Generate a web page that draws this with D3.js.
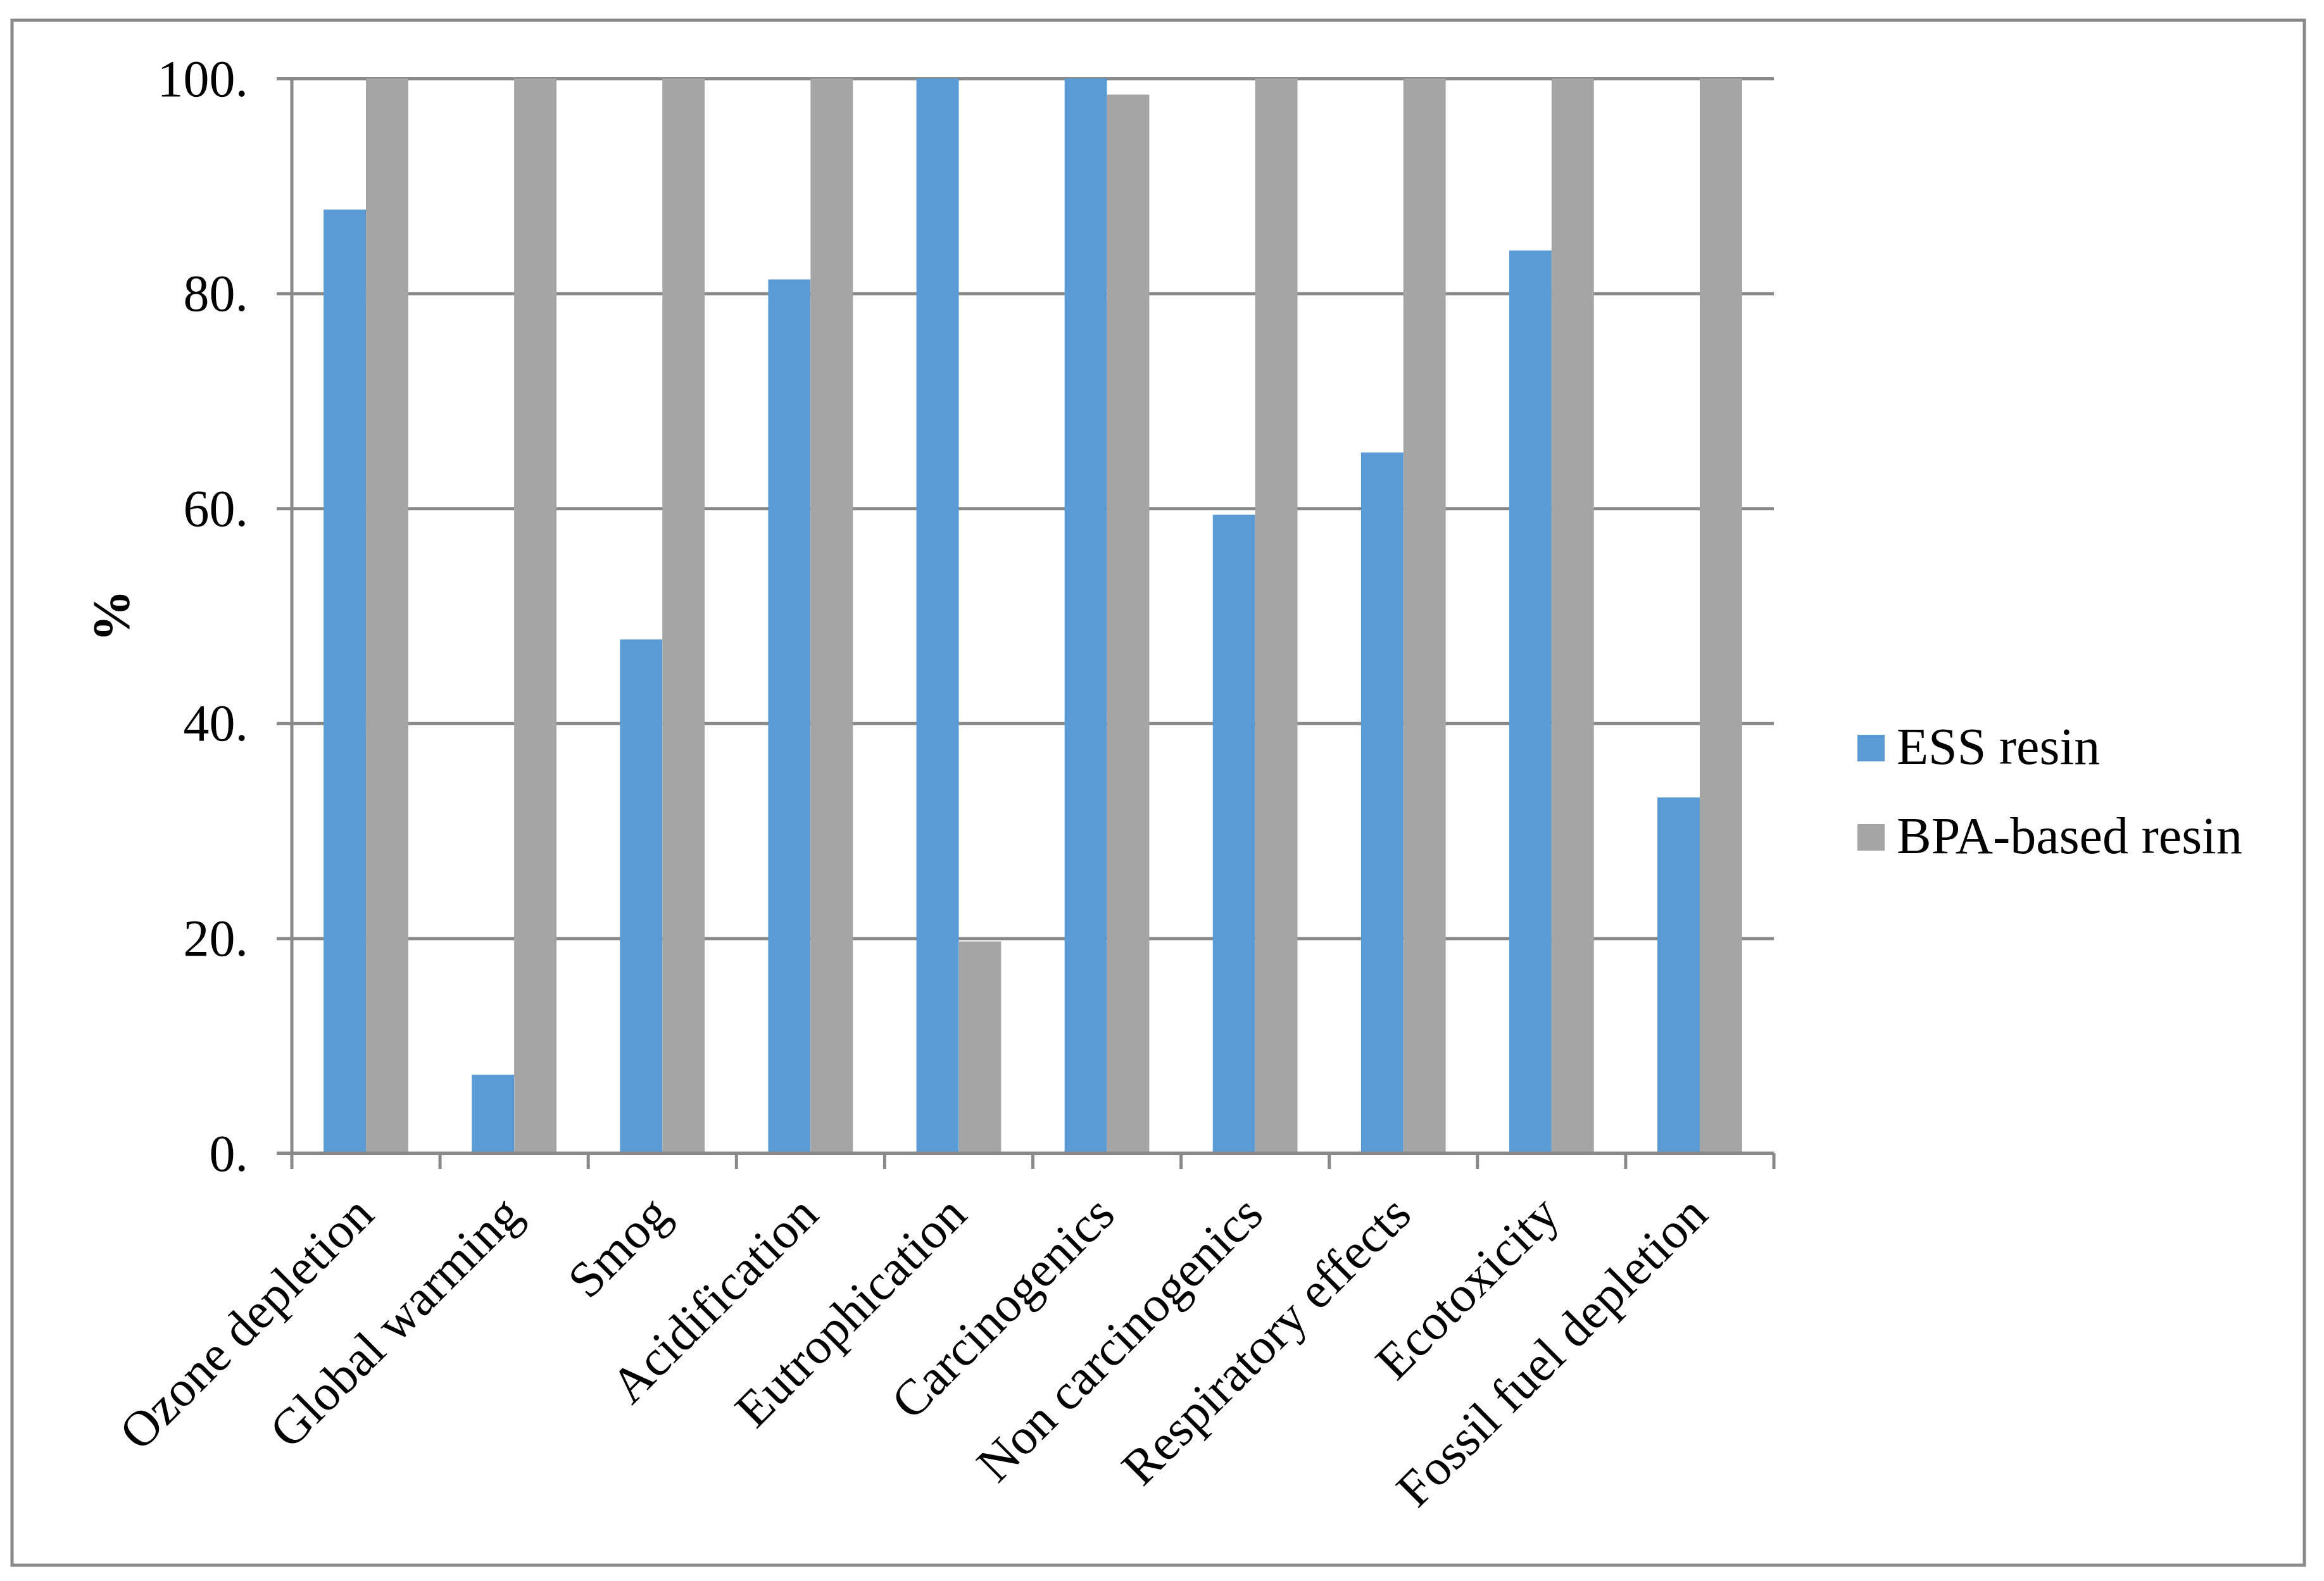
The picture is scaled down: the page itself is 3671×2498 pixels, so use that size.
<!DOCTYPE html>
<html>
<head>
<meta charset="utf-8">
<script src="https://cdn.jsdelivr.net/npm/d3@7"></script>
<style>
  html, body { margin: 0; padding: 0; background: #ffffff; }
  svg { display: block; }
  text { font-family: "Liberation Serif", "Times New Roman", serif; fill: #000; }
</style>
</head>
<body>
<script>
// ---- data ----
const categories = ["Ozone depletion", "Global warming", "Smog", "Acidification", "Eutrophication",
  "Carcinogenics", "Non carcinogenics", "Respiratory effects", "Ecotoxicity", "Fossil fuel depletion"];
const seriesNames = ["ESS resin", "BPA-based resin"];
const essValues = [87.8, 7.3, 47.8, 81.3, 100, 100, 59.4, 65.2, 84.0, 33.1];
const bpaValues = [100, 100, 100, 100, 19.7, 98.5, 100, 100, 100, 100];
const yTicks = [0, 20, 40, 60, 80, 100];
const yTickLabels = ["0.", "20.", "40.", "60.", "80.", "100."];
const yLabel = "%";
const colors = ["#5B9BD5", "#A5A5A5"];

// ---- layout ----
const W = 3671, H = 2498;
const plot = { left: 461, right: 2802, top: 124, bottom: 1822 };
const gridColor = "#898989";

const svg = d3.select("body").append("svg").attr("width", W).attr("height", H);

// outer frame
svg.append("rect").attr("x", 19).attr("y", 32).attr("width", 3640 - 19).attr("height", 2473 - 32)
  .attr("fill", "#fff").attr("stroke", gridColor).attr("stroke-width", 5);

const x0 = d3.scaleBand().domain(categories).range([plot.left, plot.right]).paddingInner(0).paddingOuter(0);
const x1 = d3.scaleBand().domain(seriesNames).range([0, x0.bandwidth()]).paddingInner(0).paddingOuter(0.75);
const y = d3.scaleLinear().domain([0, 100]).range([plot.bottom, plot.top]);

// gridlines with left ticks
const yAxis = d3.axisLeft(y).tickValues(yTicks).tickSize(-(plot.right - plot.left)).tickFormat((d, i) => yTickLabels[i]);
const gy = svg.append("g").attr("transform", `translate(${plot.left},0)`).call(yAxis);
gy.select(".domain").remove();
gy.selectAll(".tick line").attr("x1", -24).attr("stroke", gridColor).attr("stroke-width", 5);
gy.selectAll(".tick text").attr("x", -69).attr("dy", "0.33em").style("font-size", "82px")
  .style("font-family", "'Liberation Serif', 'Times New Roman', serif");

// y axis vertical line
svg.append("line").attr("x1", plot.left).attr("x2", plot.left).attr("y1", plot.top).attr("y2", plot.bottom)
  .attr("stroke", gridColor).attr("stroke-width", 5);

// bars
const data = categories.map((c, i) => ({ cat: c, vals: [essValues[i], bpaValues[i]] }));
const groups = svg.append("g").selectAll("g").data(data).join("g")
  .attr("transform", d => `translate(${x0(d.cat)},0)`);
groups.selectAll("rect").data(d => d.vals.map((v, k) => ({ s: seriesNames[k], v, k }))).join("rect")
  .attr("x", d => x1(d.s)).attr("width", x1.bandwidth())
  .attr("y", d => y(d.v)).attr("height", d => y(0) - y(d.v))
  .attr("fill", d => colors[d.k]);

// x axis baseline
svg.append("line").attr("x1", plot.left - 24).attr("x2", plot.right).attr("y1", plot.bottom).attr("y2", plot.bottom)
  .attr("stroke", gridColor).attr("stroke-width", 5);

// category boundary ticks
const boundaries = categories.map(c => x0(c)).concat([plot.right]);
svg.append("g").selectAll("line").data(boundaries).join("line")
  .attr("x1", d => d).attr("x2", d => d).attr("y1", plot.bottom).attr("y2", plot.bottom + 25)
  .attr("stroke", gridColor).attr("stroke-width", 5);

// category labels rotated -45
svg.append("g").selectAll("text").data(categories).join("text")
  .attr("transform", d => `translate(${x0(d) + x0.bandwidth() / 2 + 16},${plot.bottom + 101}) rotate(-45)`)
  .attr("text-anchor", "end").style("font-size", "80px").text(d => d);

// y label
svg.append("text").attr("transform", `translate(203,${(plot.top + plot.bottom) / 2}) rotate(-90)`)
  .attr("text-anchor", "middle").style("font-size", "82px").style("font-weight", "bold").text(yLabel);

// legend
const legend = svg.append("g");
seriesNames.forEach((s, i) => {
  const yy = 1161 + i * 141;
  legend.append("rect").attr("x", 2934).attr("y", yy).attr("width", 43).attr("height", 42).attr("fill", colors[i]);
  legend.append("text").attr("x", 2996).attr("y", yy + 46).style("font-size", "82px").text(s);
});
</script>
</body>
</html>
